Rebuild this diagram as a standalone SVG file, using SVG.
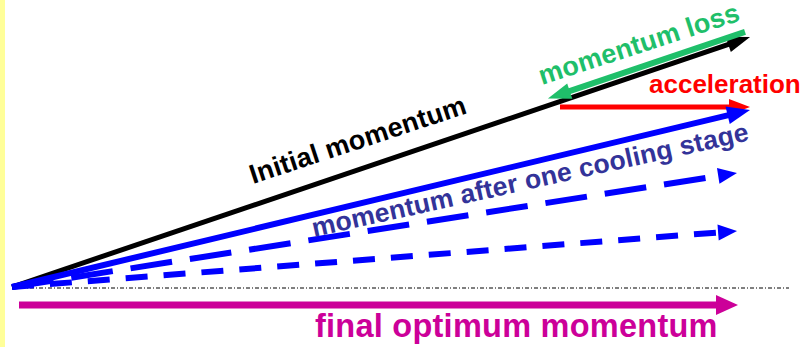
<svg xmlns="http://www.w3.org/2000/svg" width="809" height="347" viewBox="0 0 809 347">
<style>
  text { font-family: "Liberation Sans", Arial, sans-serif; font-weight: bold; }
  .vec { fill: none; stroke-linecap: butt; }
</style>
<defs>
  <marker id="hBlack" markerUnits="userSpaceOnUse" viewBox="0 0 22 16" refX="0" refY="8" markerWidth="22" markerHeight="16" orient="auto" overflow="visible">
    <path d="M-1,0 L22,8 L-1,16 Z" fill="#000"/>
  </marker>
  <marker id="hGreen" markerUnits="userSpaceOnUse" viewBox="0 0 22 16" refX="0" refY="8" markerWidth="22" markerHeight="16" orient="auto" overflow="visible">
    <path d="M-1,0 L22,8 L-1,16 Z" fill="#1fbf6a"/>
  </marker>
  <marker id="hRed" markerUnits="userSpaceOnUse" viewBox="0 0 20 16" refX="0" refY="8" markerWidth="20" markerHeight="16" orient="auto" overflow="visible">
    <path d="M-1,0 L20,8 L-1,16 Z" fill="#ff0000"/>
  </marker>
  <marker id="hBlue" markerUnits="userSpaceOnUse" viewBox="0 0 22 18" refX="0" refY="9" markerWidth="22" markerHeight="18" orient="auto" overflow="visible">
    <path d="M-1,0 L22,9 L-1,18 Z" fill="#0000ff"/>
  </marker>
  <marker id="hBlueS" markerUnits="userSpaceOnUse" viewBox="0 0 18 16" refX="0" refY="8" markerWidth="18" markerHeight="16" orient="auto" overflow="visible">
    <path d="M-1,0 L18,8 L-1,16 Z" fill="#0000ff"/>
  </marker>
  <marker id="hMag" markerUnits="userSpaceOnUse" viewBox="0 0 21 20" refX="0" refY="10" markerWidth="21" markerHeight="20" orient="auto" overflow="visible">
    <path d="M-1,0 L21,10 L-1,20 Z" fill="#cc0099"/>
  </marker>
</defs>
<rect x="0" y="0" width="809" height="347" fill="#ffffff"/>
<rect x="0" y="0" width="5" height="347" fill="#ffff99"/>

<g id="connectors">
  <line id="axis" x1="12" y1="288" x2="789" y2="288" stroke="#000" stroke-width="1" stroke-dasharray="4 2 1 2"/>
  <line id="dash2" class="vec" x1="12" y1="287" x2="719.1" y2="232.4" stroke="#0000ff" stroke-width="6" stroke-dasharray="22 16" marker-end="url(#hBlueS)"/>
  <line id="dash1" class="vec" x1="12" y1="287" x2="719.2" y2="175.8" stroke="#0000ff" stroke-width="6" stroke-dasharray="42 18" marker-end="url(#hBlueS)"/>
  <line id="initial" class="vec" x1="12" y1="287" x2="729.2" y2="44.1" stroke="#000" stroke-width="5" marker-end="url(#hBlack)"/>
  <line id="loss" class="vec" x1="745" y1="31.8" x2="568.8" y2="91.4" stroke="#1fbf6a" stroke-width="6" marker-end="url(#hGreen)"/>
  <line id="accel" class="vec" x1="560" y1="107" x2="730" y2="107" stroke="#ff0000" stroke-width="5" marker-end="url(#hRed)"/>
  <line id="after" class="vec" x1="12" y1="287" x2="728.6" y2="115.1" stroke="#0000ff" stroke-width="6" marker-end="url(#hBlue)"/>
  <line id="final" class="vec" x1="19" y1="305" x2="717" y2="305" stroke="#cc0099" stroke-width="7" marker-end="url(#hMag)"/>
</g>

<g id="label-initial">
  <text transform="translate(253,184) rotate(-18.3)" font-size="27" fill="#000" letter-spacing="0.2">Initial momentum</text>
</g>
<g id="label-loss">
  <text transform="translate(542,85) rotate(-18)" font-size="27" fill="#1fbf6a" letter-spacing="0.2">momentum loss</text>
</g>
<g id="label-accel">
  <text x="649" y="93" font-size="26" fill="#ff0000">acceleration</text>
</g>
<g id="label-after">
  <text transform="translate(314,237) rotate(-12.5)" font-size="26.5" fill="#333399" letter-spacing="0.2">momentum after one cooling stage</text>
</g>
<g id="label-final">
  <text x="315" y="337" font-size="32.5" fill="#cc0099" letter-spacing="0.25">final optimum momentum</text>
</g>
</svg>
